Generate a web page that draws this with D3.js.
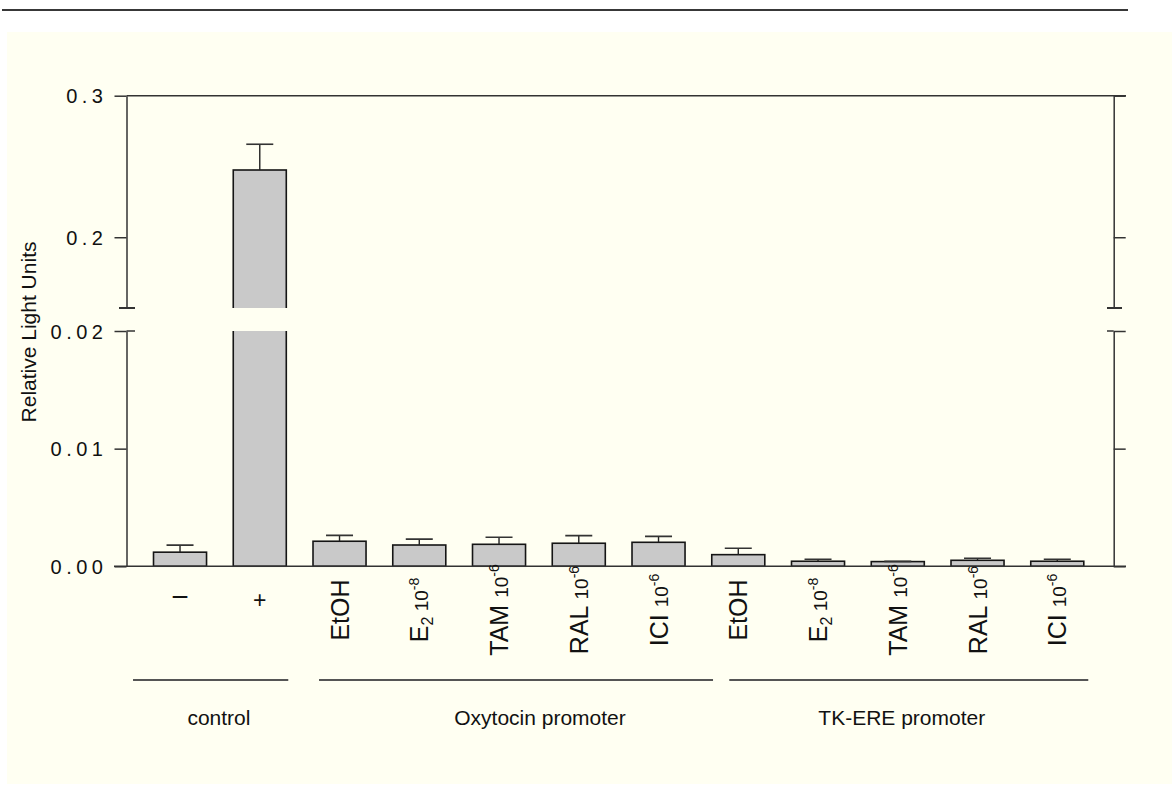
<!DOCTYPE html>
<html><head><meta charset="utf-8">
<script src="https://cdn.jsdelivr.net/npm/d3@7"></script>
<style>
html,body{margin:0;padding:0;background:#fff;}
svg{display:block;font-family:"Liberation Sans",Arial,sans-serif;}
</style></head>
<body>
<svg id="chart" width="1172" height="796"></svg>
<script>
// ---- data ----
const categories = ["neg","pos","EtOH","E2","TAM","RAL","ICI","EtOH","E2","TAM","RAL","ICI"];
const labelMain = ["−","+","EtOH","E","TAM ","RAL ","ICI ","EtOH","E","TAM ","RAL ","ICI "];
const labelSub  = ["","","","2","","","","","2","","",""];
const labelNum  = ["","","","10","10","10","10","","10","10","10","10"];
const labelSup  = ["","","","-8","-6","-6","-6","","-8","-6","-6","-6"];
const values = [0.0012, 0.2475, 0.00213, 0.00181, 0.00187, 0.00196, 0.00204, 0.00099, 0.00043, 0.00040, 0.00051, 0.00043];
const errors = [0.0006, 0.0182, 0.0005, 0.0005, 0.0006, 0.00065, 0.0005, 0.00055, 0.00017, 0.00002, 0.00017, 0.00017];
const groupNames = ["control","Oxytocin promoter","TK-ERE promoter"];
const groupFirst = [0, 2, 7];
const groupLast  = [1, 6, 11];
const upperTicks = [0.2, 0.3];
const lowerTicks = [0.00, 0.01, 0.02];

// ---- layout ----
const svg = d3.select("#chart");
const W = 1172, H = 796;
const axL = 126.5, axR = 1113.7;
const breakTop = 308, breakBot = 331;

svg.append("rect").attr("x",0).attr("y",0).attr("width",W).attr("height",H).attr("fill","#fff");
svg.append("line").attr("x1",2).attr("x2",1128).attr("y1",10).attr("y2",10)
  .attr("stroke","#383838").attr("stroke-width",2);
svg.append("rect").attr("x",7).attr("y",32).attr("width",W-7).attr("height",752).attr("fill","#FFFFF2");

const x = d3.scaleBand().domain(d3.range(categories.length))
  .range([140.15, 1097.15]).paddingInner(0.335).paddingOuter(0.1675);
const yUpper = d3.scaleLinear().domain([0.15, 0.3]).range([breakTop, 95.7]);
const yLower = d3.scaleLinear().domain([0, 0.02]).range([566.3, breakBot]);

const defs = svg.append("defs");
defs.append("clipPath").attr("id","clipU").append("rect")
  .attr("x",0).attr("y",60).attr("width",W).attr("height",breakTop-60);
defs.append("clipPath").attr("id","clipL").append("rect")
  .attr("x",0).attr("y",breakBot).attr("width",W).attr("height",566.3-breakBot+1);

function drawBars(g, y){
  const bw = x.bandwidth();
  g.selectAll("rect.bar").data(values).join("rect").attr("class","bar")
    .attr("x",(d,i)=>x(i)).attr("width",bw)
    .attr("y",d=>y(d)).attr("height",d=>y(0)-y(d))
    .attr("fill","#C9C9C9").attr("stroke","#151515").attr("stroke-width",1.6);
  const cap = 27;
  g.selectAll("line.ev").data(values).join("line").attr("class","ev")
    .attr("x1",(d,i)=>x(i)+bw/2).attr("x2",(d,i)=>x(i)+bw/2)
    .attr("y1",d=>y(d)).attr("y2",(d,i)=>y(d+errors[i]))
    .attr("stroke","#222").attr("stroke-width",1.4);
  g.selectAll("line.ec").data(values).join("line").attr("class","ec")
    .attr("x1",(d,i)=>x(i)+bw/2-cap/2).attr("x2",(d,i)=>x(i)+bw/2+cap/2)
    .attr("y1",(d,i)=>y(d+errors[i])).attr("y2",(d,i)=>y(d+errors[i]))
    .attr("stroke","#333").attr("stroke-width",1.6);
}
drawBars(svg.append("g").attr("clip-path","url(#clipU)"), yUpper);
drawBars(svg.append("g").attr("clip-path","url(#clipL)"), yLower);

// axes
const fmtU = d3.format(".1f"), fmtL = d3.format(".2f");
function styleAxis(g){
  g.attr("font-size",null).attr("font-family",null);
  g.selectAll("path.domain").attr("stroke","#333").attr("stroke-width",1.5);
  g.selectAll(".tick line").attr("stroke","#333").attr("stroke-width",1.5);
  g.selectAll(".tick text").attr("fill","#111").style("font-size","20px")
    .style("letter-spacing","4.5px").attr("dy","0.36em");
}
const gUL = svg.append("g").attr("transform",`translate(${axL},0)`)
  .call(d3.axisLeft(yUpper).tickValues(upperTicks).tickSize(12).tickSizeOuter(0).tickPadding(7).tickFormat(fmtU));
styleAxis(gUL);
const gLL = svg.append("g").attr("transform",`translate(${axL},0)`)
  .call(d3.axisLeft(yLower).tickValues(lowerTicks).tickSize(12).tickSizeOuter(0).tickPadding(7).tickFormat(fmtL));
styleAxis(gLL);
const gUR = svg.append("g").attr("transform",`translate(${axR},0)`)
  .call(d3.axisRight(yUpper).tickValues(upperTicks).tickSize(12).tickSizeOuter(0).tickFormat(""));
styleAxis(gUR);
const gLR = svg.append("g").attr("transform",`translate(${axR},0)`)
  .call(d3.axisRight(yLower).tickValues(lowerTicks).tickSize(12).tickSizeOuter(0).tickFormat(""));
styleAxis(gLR);

// frame lines and break caps
const ln = (x1,y1,x2,y2,w)=>svg.append("line").attr("x1",x1).attr("y1",y1).attr("x2",x2).attr("y2",y2)
  .attr("stroke","#333").attr("stroke-width",w||1.5);
ln(axL, yUpper(0.3), 1126, yUpper(0.3));
ln(114, yLower(0), 1126, yLower(0));
ln(119, breakTop, 135, breakTop, 2);
ln(axL, breakBot, 135, breakBot);
ln(1107, breakTop, 1122, breakTop, 2);
ln(1107, breakBot, axR, breakBot);

// y title
svg.append("text").attr("transform","translate(36,332) rotate(-90)")
  .attr("text-anchor","middle").style("font-size","21px").attr("fill","#111")
  .text("Relative Light Units");

// x labels
categories.forEach((c,i)=>{
  const cx = x(i) + x.bandwidth()/2;
  if (i < 2){
    svg.append("text").attr("x",cx).attr("y",i===0?607:608).attr("text-anchor","middle")
      .style("font-size",i===0?"30px":"23px").attr("fill","#111").text(labelMain[i]);
    return;
  }
  const t = svg.append("text").attr("transform",`translate(${cx+9},610) rotate(-90)`)
    .attr("text-anchor","middle").style("font-size","25px").attr("fill","#111");
  t.append("tspan").text(labelMain[i]);
  if (labelSub[i]) t.append("tspan").attr("dy",5).style("font-size","16px").text(labelSub[i]);
  if (labelNum[i]) {
    t.append("tspan").attr("dy",labelSub[i]? -5:0).style("font-size","19px")
      .text((labelSub[i]?" ":"") + labelNum[i]);
    t.append("tspan").attr("dy",-9).style("font-size","14px").text(labelSup[i]);
  }
});

// group lines and names
const gOff = [[-47, 28.5], [-20.5, 54.5], [-9, 31]];
const gTextDx = [-1, 41, 4];
groupNames.forEach((n,k)=>{
  const a = x(groupFirst[k]) + x.bandwidth()/2 + gOff[k][0];
  const b = x(groupLast[k]) + x.bandwidth()/2 + gOff[k][1];
  svg.append("line").attr("x1",a).attr("x2",b).attr("y1",680).attr("y2",680)
    .attr("stroke","#555").attr("stroke-width",2);
  const mid = (x(groupFirst[k]) + x(groupLast[k]) + x.bandwidth())/2;
  svg.append("text").attr("x",mid + gTextDx[k]).attr("y",725).attr("text-anchor","middle")
    .style("font-size","21px").attr("fill","#111").text(n);
});
</script>
</body></html>
